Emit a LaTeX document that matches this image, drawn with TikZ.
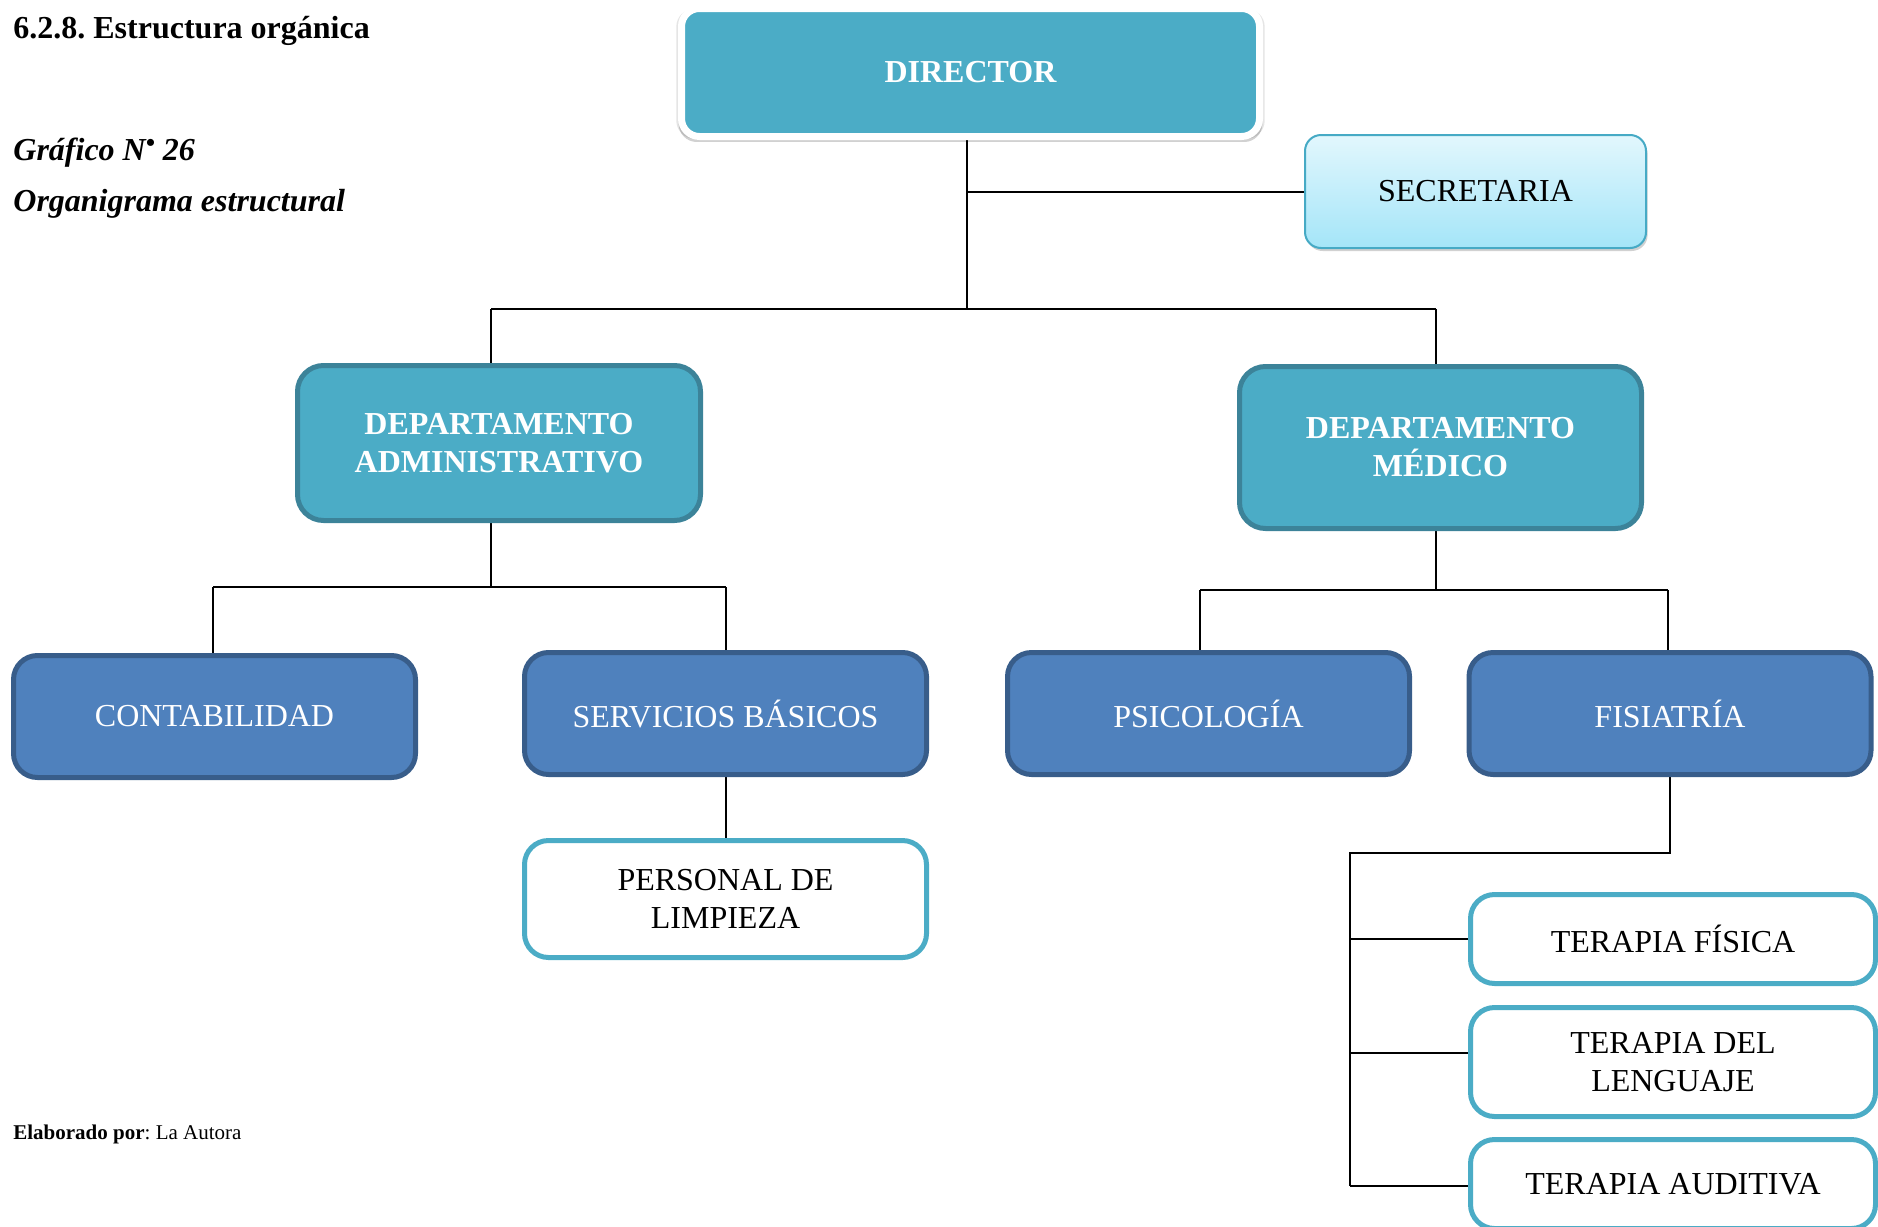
\documentclass[tikz,border=0pt]{standalone}
\usepackage{fontspec}
\setmainfont{Liberation Serif}
\frenchspacing
\usetikzlibrary{shadows}
\definecolor{tealfill}{HTML}{4BACC6}
\definecolor{tealdk}{HTML}{3C8399}
\definecolor{bluefill}{HTML}{4F81BD}
\definecolor{bluedk}{HTML}{385D8A}
\definecolor{secTop}{HTML}{E2F7FD}
\definecolor{secBot}{HTML}{A4E5F8}
\definecolor{secBrd}{HTML}{46AAC5}
\pgfdeclarelayer{bg}
\pgfsetlayers{bg,main}
\tikzset{
  boxfont/.style={font=\fontsize{16}{19}\selectfont},
  base box/.style={boxfont, align=center, inner sep=0pt},
  dirbox/.style={base box, font=\fontsize{16}{19}\selectfont\bfseries, text=white,
    rounded corners=9pt, fill=tealfill, draw=white, line width=3.5pt,
    general shadow={shadow scale=1.018, shadow yshift=-0.6pt, opacity=0.10, fill=black},
    general shadow={shadow scale=1.01, shadow yshift=-2.4pt, opacity=0.18, fill=black},
    general shadow={shadow scale=1.004, shadow yshift=-1.4pt, opacity=0.22, fill=black}},
  secbox/.style={base box, rounded corners=8pt, top color=secTop, bottom color=secBot,
    draw=secBrd, line width=1pt,
    drop shadow={shadow xshift=0.8pt, shadow yshift=-1.5pt, opacity=0.3, fill=black!60}},
  deptbox/.style={base box, font=\fontsize{16}{19}\selectfont\bfseries, text=white,
    rounded corners=13pt, fill=tealfill, draw=tealdk, line width=2.5pt},
  unitbox/.style={base box, text=white, rounded corners=12pt, fill=bluefill,
    draw=bluedk, line width=2.5pt, minimum width=201pt, minimum height=61pt},
  leafbox/.style={base box, text=black, rounded corners=12pt, fill=white,
    draw=tealfill, line width=2.5pt},
  conn/.style={draw=black, line width=1pt},
  caption/.style={anchor=base west, inner sep=0pt}
}
\begin{document}
\begin{tikzpicture}[x=0.5pt,y=-0.5pt]
\useasboundingbox (0,0) rectangle (1878,1226);
\clip (0,0) rectangle (1878,1226);

% captions
\node[caption, font=\fontsize{16}{19}\selectfont\bfseries] (t1) at (13,39) {6.2.8. Estructura orgánica};
\node[caption, font=\fontsize{16}{19}\selectfont\bfseries\itshape] (t2) at (13,160) {Gráfico N\raisebox{0.28em}{\fontsize{13}{13}\selectfont •} 26};
\node[caption, font=\fontsize{16}{19}\selectfont\bfseries\itshape] (t3) at (13,211) {Organigrama estructural};
\node[caption, font=\fontsize{10.5}{12}\selectfont] (t4) at (13,1139) {\textbf{Elaborado por}: La Autora};

% boxes
\node[dirbox, minimum width=289pt, minimum height=64pt] (dir) at (970.5,72.5) {DIRECTOR};
\node[secbox, minimum width=170.5pt, minimum height=56.5pt] (sec) at (1475.5,191.5) {SECRETARIA};
\node[deptbox, minimum width=201.5pt, minimum height=77.5pt] (adm) at (499,443) {DEPARTAMENTO\\ADMINISTRATIVO};
\node[deptbox, minimum width=201pt, minimum height=81pt] (med) at (1440.5,447.5) {DEPARTAMENTO\\MÉDICO};
\node[unitbox] (con) at (214.5,716.5) {CONTABILIDAD};
\node[unitbox] (ser) at (725.5,713.5) {SERVICIOS BÁSICOS};
\node[unitbox] (psi) at (1208.5,713.5) {PSICOLOGÍA};
\node[unitbox] (fis) at (1670,713.5) {FISIATRÍA};
\node[leafbox, minimum width=201pt, minimum height=58.5pt] (per) at (725.5,899) {PERSONAL DE\\LIMPIEZA};
\node[leafbox, minimum width=202.5pt, minimum height=44.5pt] (tf) at (1673,939) {TERAPIA FÍSICA};
\node[leafbox, minimum width=202.5pt, minimum height=54.5pt] (tl) at (1673,1062) {TERAPIA DEL\\LENGUAJE};
\node[leafbox, minimum width=202.5pt, minimum height=44.5pt] (ta) at (1673,1184) {TERAPIA AUDITIVA};

% junction coordinates
\coordinate (top) at (967,309);
\coordinate (admin) at (491,309);
\coordinate (medin) at (1436,309);
\coordinate (admdown) at (491,587);
\coordinate (lleft) at (213,587);
\coordinate (lright) at (726,587);
\coordinate (meddown) at (1436,590);
\coordinate (rleft) at (1200,590);
\coordinate (rright) at (1668,590);
\coordinate (fh) at (1350,853);
\coordinate (fb) at (1350,1186);

\begin{pgfonlayer}{bg}
\draw[conn] (dir.south -| top) -- (top);
\draw[conn] (sec.west) -- (sec.west -| top);
\draw[conn] (admin) -- (medin);
\draw[conn] (admin) -- (admin |- adm.north);
\draw[conn] (medin) -- (medin |- med.north);
\draw[conn] (adm.south -| admdown) -- (admdown);
\draw[conn] (lleft) -- (lright);
\draw[conn] (lleft) -- (lleft |- con.north);
\draw[conn] (lright -| ser.north) -- (ser.north);
\draw[conn] (med.south -| meddown) -- (meddown);
\draw[conn] (rleft) -- (rright);
\draw[conn] (rleft) -- (rleft |- psi.north);
\draw[conn] (rright) -- (rright |- fis.north);
\draw[conn] (ser.south) -- (per.north);
\draw[conn] (fis.south) |- (fh) -- (fb);
\draw[conn] (tf.west -| fh) -- (tf.west);
\draw[conn] ([yshift=4.5pt]tl.west -| fh) -- ([yshift=4.5pt]tl.west);
\draw[conn] (fb) -- (fb -| ta.west);
\end{pgfonlayer}
\end{tikzpicture}
\end{document}
